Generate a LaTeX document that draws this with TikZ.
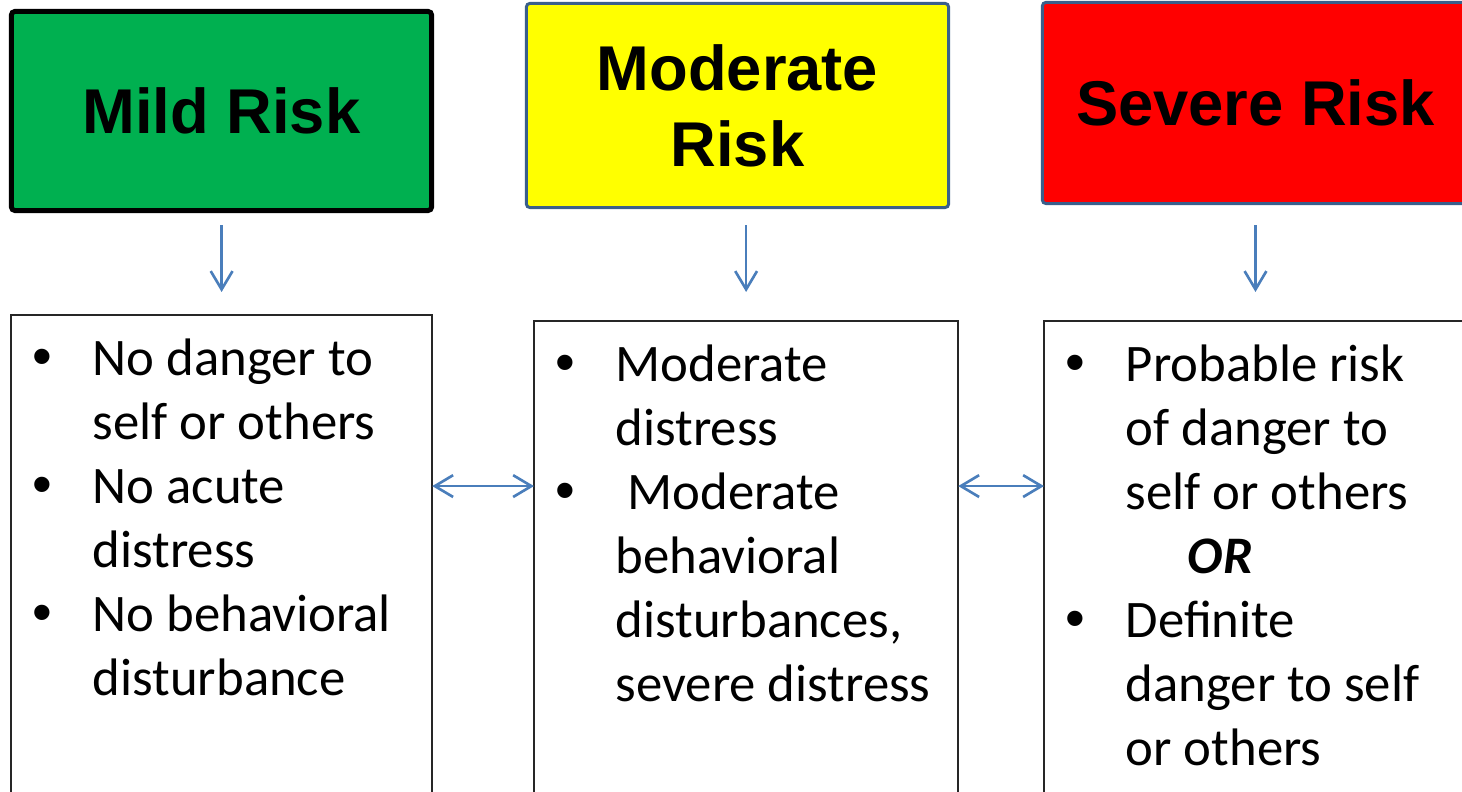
\documentclass[tikz,border=0pt]{standalone}
\usepackage{fontspec}
\setmainfont{Carlito}
\newfontfamily\headfont{Liberation Sans}
\usetikzlibrary{arrows.meta}
\definecolor{mildgreen}{HTML}{00B050}
\definecolor{modyellow}{HTML}{FFFF00}
\definecolor{sevred}{HTML}{FF0000}
\definecolor{edgeblue}{HTML}{3A5F8B}
\definecolor{arrowblue}{HTML}{4A7EBB}
\newcommand{\riskdot}{{\headfont\fontsize{16pt}{18.2pt}\selectfont •}}
\tikzset{
  riskhead/.style={draw, inner sep=0pt, align=center, rounded corners=1pt,
    font=\headfont\bfseries\fontsize{18pt}{21.6pt}\selectfont},
  riskbox/.style={draw=black!85, line width=0.5pt, anchor=north west, inner sep=0pt, outer sep=0pt},
  risktext/.style={anchor=north west, inner sep=0pt, font=\fontsize{15pt}{18.2pt}\selectfont},
  flowarrow/.style={draw=arrowblue, line width=0.75pt, -{Straight Barb[length=5.2pt,width=6.2pt]}},
  linkarrow/.style={draw=arrowblue, line width=0.75pt,
    {Straight Barb[length=5.2pt,width=6.2pt]}-{Straight Barb[length=5.2pt,width=6.2pt]}}
}
\begin{document}
\begin{tikzpicture}[x=0.01cm, y=-0.01cm]
			%%%%% START %%%%%
			\useasboundingbox (0, 0) rectangle (1462, 792);
			\clip (0, 0) rectangle (1462, 792);
			
			% the three levels
			\node[riskhead, fill=mildgreen, draw=black, line width=1.4pt, minimum width=4.20cm, minimum height=1.99cm] (mild) at (221.5, 111) {Mild Risk};
			\node[riskhead, fill=modyellow, draw=edgeblue, line width=0.85pt, minimum width=4.22cm, minimum height=2.04cm] (mod) at (737.5, 105.5) {Moderate\\Risk};
			\node[riskhead, fill=sevred, draw=edgeblue, line width=0.85pt, minimum width=4.26cm, minimum height=2.01cm] (sev) at (1255.5, 103) {Severe Risk};
			
			% the boxes below
			\node[riskbox, minimum width=4.21cm, minimum height=5cm] (mildbox) at (11, 315) {};
			\node[riskbox, minimum width=4.24cm, minimum height=5cm] (modbox) at (534, 321) {};
			\node[riskbox, minimum width=4.23cm, minimum height=5cm] (sevbox) at (1044, 321) {};
			
			\node[risktext] (mildtxt) at ([xshift=0.21cm, yshift=-0.15cm]mildbox.north west) {%
				\begin{tabular}{@{}p{0.6cm}@{}l@{}}
				\riskdot & No danger to\\
				 & self or others\\
				\riskdot & No acute\\
				 & distress\\
				\riskdot & No behavioral\\
				 & disturbance
				\end{tabular}};
			\node[risktext] (modtxt) at ([xshift=0.21cm, yshift=-0.15cm]modbox.north west) {%
				\begin{tabular}{@{}p{0.6cm}@{}l@{}}
				\riskdot & Moderate\\
				 & distress\\
				\riskdot & \ Moderate\\
				 & behavioral\\
				 & disturbances,\\
				 & severe distress
				\end{tabular}};
			\node[risktext] (sevtxt) at ([xshift=0.21cm, yshift=-0.15cm]sevbox.north west) {%
				\begin{tabular}{@{}p{0.6cm}@{}l@{}}
				\riskdot & Probable risk\\
				 & of danger to\\
				 & self or others\\
				 & \hspace{0.62cm}\textbf{\textit{OR}}\\
				\riskdot & Definite\\
				 & danger to self\\
				 & or others
				\end{tabular}};
			
			% arrows
			\draw[flowarrow, shorten <=0.12cm, shorten >=0.23cm] (mildbox.north |- mild.south) -- (mildbox.north);
			\draw[flowarrow, shorten <=0.16cm, shorten >=0.29cm] (modbox.north |- mod.south) -- (modbox.north);
			\draw[flowarrow, shorten <=0.20cm, shorten >=0.29cm] (sev.south) -- (sev.south |- sevbox.north);
			
			\draw[linkarrow] ([yshift=-1.71cm]mildbox.north east) -- ([yshift=-1.71cm]mildbox.north east -| modbox.west);
			\draw[linkarrow] ([yshift=-1.65cm]modbox.north east) -- ([yshift=-1.65cm]modbox.north east -| sevbox.west);
			%%%%% END %%%%%
\end{tikzpicture}
\end{document}
